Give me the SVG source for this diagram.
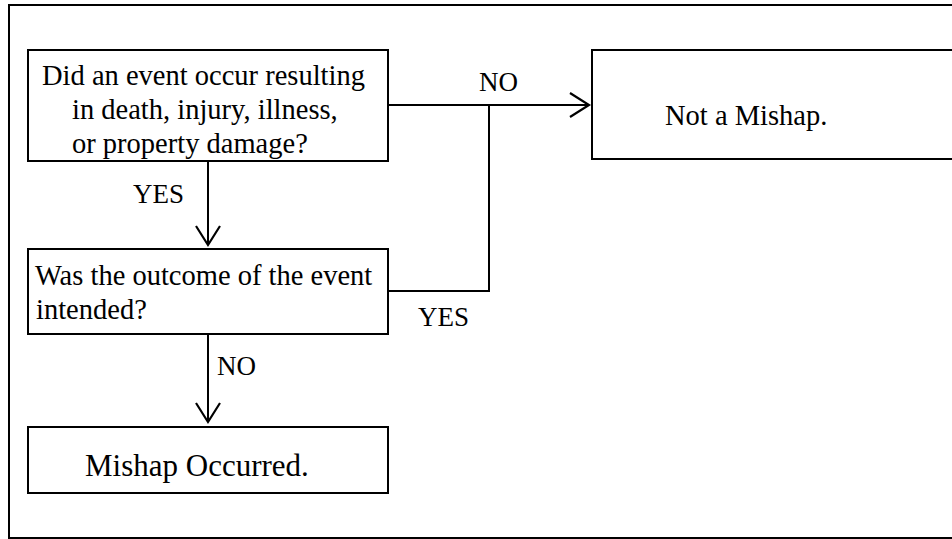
<svg xmlns="http://www.w3.org/2000/svg" width="952" height="539" viewBox="0 0 952 539">
<style>
.box{fill:#fff;stroke:#000;stroke-width:2}
.ln{fill:none;stroke:#000;stroke-width:2}
.t{font-size:28.5px}
.l{font-size:27px}
</style>
<defs>
<marker id="arr" markerUnits="userSpaceOnUse" markerWidth="30" markerHeight="30" refX="20" refY="13" orient="auto">
<path d="M1,1 L20,13 L1,25" fill="none" stroke="#000" stroke-width="2.2"/>
</marker>
</defs>
<rect x="9" y="5" width="960" height="533" fill="none" stroke="#000" stroke-width="2"/>
<g font-family="Liberation Serif, serif" fill="#000">
<g id="connectors">
<path class="ln" d="M388,105 H589" marker-end="url(#arr)"/>
<path class="ln" d="M388,291 H489 V105"/>
<path class="ln" d="M208,161 V245" marker-end="url(#arr)"/>
<path class="ln" d="M208,334 V422" marker-end="url(#arr)"/>
<text class="l" x="479" y="91">NO</text>
<text class="l" x="133" y="203">YES</text>
<text class="l" x="418" y="326">YES</text>
<text class="l" x="217" y="375">NO</text>
</g>
<g id="q1">
<rect class="box" x="28" y="50" width="360" height="111"/>
<text class="t" x="42" y="85">Did an event occur resulting</text>
<text class="t" x="72" y="119">in death, injury, illness,</text>
<text class="t" x="72" y="153">or property damage?</text>
</g>
<g id="notMishap">
<rect class="box" x="592" y="50" width="380" height="109"/>
<text class="t" x="665" y="125">Not a Mishap.</text>
</g>
<g id="q2">
<rect class="box" x="28" y="249" width="360" height="85"/>
<text class="t" x="35" y="285">Was the outcome of the event</text>
<text class="t" x="36" y="319">intended?</text>
</g>
<g id="mishap">
<rect class="box" x="28" y="427" width="360" height="66"/>
<text x="85" y="476" font-size="31px">Mishap Occurred.</text>
</g>
</g>
</svg>
